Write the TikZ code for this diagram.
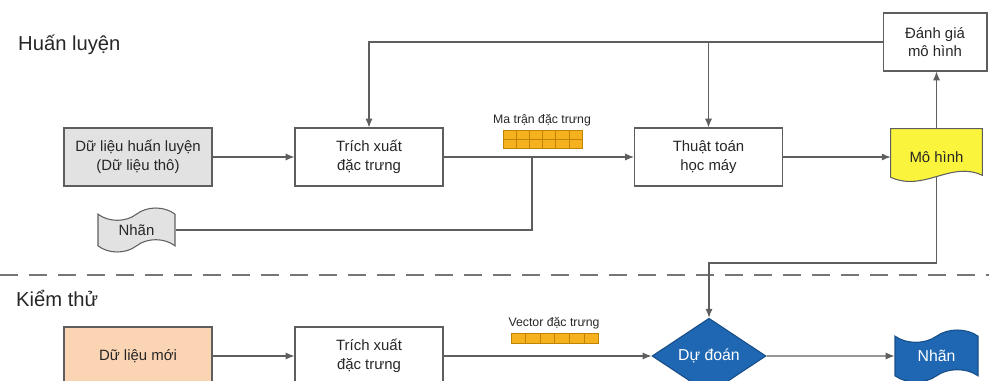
\documentclass[tikz,border=0pt]{standalone}
\usepackage{fontspec}
\setmainfont{Liberation Sans}
\usetikzlibrary{arrows.meta,calc,shapes.geometric,shapes.symbols}
\definecolor{linegray}{HTML}{5E5E5E}
\definecolor{graybox}{HTML}{E2E2E2}
\definecolor{peach}{HTML}{FBD4B4}
\definecolor{docyellow}{HTML}{FAF53C}
\definecolor{cellfill}{HTML}{F6B21E}
\definecolor{celledge}{HTML}{C08400}
\definecolor{predblue}{HTML}{1F67B2}
\definecolor{prededge}{HTML}{174E88}

\begin{document}
\begin{tikzpicture}[
    x=0.02cm, y=-0.02cm,
    font=\fontsize{8.5}{10.5}\selectfont, text=black!85,
    box/.style={draw=linegray, line width=0.6pt, minimum width=2.96cm,
      minimum height=1.16cm, align=center, inner sep=0pt},
    arr/.style={draw=linegray, line width=0.6pt, -{Latex[length=5pt,width=4pt]}},
    conn/.style={draw=linegray, line width=0.6pt},
    tapebox/.style={tape, draw=linegray, line width=0.6pt, tape bend height=7pt,
      inner sep=0pt},
    cell/.style={fill=cellfill, draw=celledge, line width=0.4pt},
    small/.style={font=\fontsize{7}{8}\selectfont},
    title/.style={font=\fontsize{11.5}{13}\selectfont, anchor=west}
    ]
    \path[use as bounding box, clip] (0,0) rectangle (989,381);

    \node[title] (train) at (12,45) {Huấn luyện};
    \node[title] (test) at (10,298) {Kiểm thử};

    % training row
    \node[box, fill=graybox] (dlhl) at (138,157) {Dữ liệu huấn luyện\\(Dữ liệu thô)};
    \node[box] (tx1) at (369,157) {Trích xuất\\đặc trưng};
    \node[box] (tt) at (708.5,157) {Thuật toán\\học máy};
    \node[box, minimum width=2.08cm] (dg) at (935,42) {Đánh giá\\mô hình};
    \node[minimum width=1.82cm, minimum height=1.12cm, inner sep=0pt] (mh) at (936.5,157) {};
    \draw[conn, fill=docyellow] (mh.north west) -- (mh.north east)
      -- ($(mh.south east)+(0,-10)$)
      .. controls ($(mh.south east)+(-32,-25)$) and ($(mh.south west)+(34,7)$)
      .. ($(mh.south west)+(0,-8)$) -- cycle;
    \node at (mh) {Mô hình};
    \coordinate (mhb) at ($(mh.south)+(0,-9)$);
    \node[tapebox, fill=graybox, minimum width=1.54cm, minimum height=0.88cm] (nhan1) at (136.5,230) {Nhãn};

    \node[small] (mtlab) at (542,120) {Ma trận đặc trưng};
    \foreach \i in {0,...,5}
      \foreach \j in {0,1}
        \draw[cell] (503+\i*13.2,130+\j*9) rectangle ++(13.2,9);

    \draw[arr] (dlhl) -- (tx1);
    \draw[arr] (tx1) -- (tt);
    \draw[arr] (tt.east) -- (tt.east -| mh.west);
    \draw[arr] (mh.north) -- (mh.north |- dg.south);
    \draw[arr] (dg.west) -| (tx1.north);
    \draw[arr] (tt.north |- dg.west) -- (tt.north);
    \coordinate (j1) at (532,157);
    \draw[conn] (nhan1.east) -| (j1);

    % dashed separator
    \draw[linegray!85, line width=1.1pt, dash pattern=on 10.5pt off 6pt] (0,275) -- (989,275);

    % test row
    \node[box, fill=peach] (dlm) at (138,356) {Dữ liệu mới};
    \node[box] (tx2) at (369,356) {Trích xuất\\đặc trưng};
    \node[diamond, draw=prededge, fill=predblue, text=white, minimum width=2.28cm,
      minimum height=1.16cm, inner sep=0pt, line width=0.6pt,
      font=\fontsize{9}{10}\selectfont] (dd) at (709,356) {Dự đoán};
    \node[tapebox, draw=prededge, fill=predblue, text=white, minimum width=1.66cm,
      minimum height=1.04cm, font=\fontsize{9}{10}\selectfont] (nhan2) at (936.5,356) {Nhãn};

    \node[small] (vtlab) at (554,323) {Vector đặc trưng};
    \foreach \i in {0,...,5}
      \draw[cell] (511+\i*14.6,333) rectangle ++(14.6,10);

    \coordinate (bend) at (709,263);
    \draw[arr] (dlm) -- (tx2);
    \draw[arr] (tx2) -- (dd);
    \draw[arr] (dd) -- (nhan2);
    \draw[arr] (mhb) |- (bend) -- (dd.north);
\end{tikzpicture}
\end{document}
